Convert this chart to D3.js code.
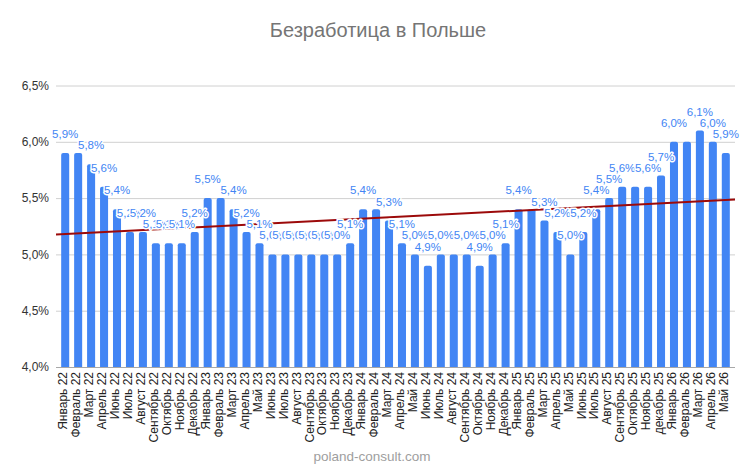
<!DOCTYPE html>
<html>
<head>
<meta charset="utf-8">
<script src="https://cdnjs.cloudflare.com/ajax/libs/d3/7.8.5/d3.min.js"></script>
<style>
    body { margin: 0; background: #fff; }
    svg { display: block; font-family: "Liberation Sans", Arial, sans-serif; }
</style>
</head>
<body>
<script>
var chartTitle = "Безработица в Польше";
var footerText = "poland-consult.com";

var months = [
    "Январь 22", "Февраль 22", "Март 22", "Апрель 22", "Июнь 22", "Июль 22",
    "Август 22", "Сентябрь 22", "Октябрь 22", "Ноябрь 22", "Декабрь 22",
    "Январь 23", "Февраль 23", "Март 23", "Апрель 23", "Май 23", "Июнь 23",
    "Июль 23", "Август 23", "Сентябрь 23", "Октябрь 23", "Ноябрь 23", "Декабрь 23",
    "Январь 24", "Февраль 24", "Март 24", "Апрель 24", "Май 24", "Июнь 24",
    "Июль 24", "Август 24", "Сентябрь 24", "Октябрь 24", "Ноябрь 24", "Декабрь 24",
    "Январь 25", "Февраль 25", "Март 25", "Апрель 25", "Май 25", "Июнь 25",
    "Июль 25", "Август 25", "Сентябрь 25", "Октябрь 25", "Ноябрь 25", "декабрь 25",
    "Январь 26", "Февраль 26", "Март 26", "Апрель 26", "Май 26"
];

var rates = [
    5.9, 5.9, 5.8, 5.6, 5.4, 5.2, 5.2, 5.1, 5.1, 5.1, 5.2,
    5.5, 5.5, 5.4, 5.2, 5.1, 5.0, 5.0, 5.0, 5.0, 5.0, 5.0, 5.1,
    5.4, 5.4, 5.3, 5.1, 5.0, 4.9, 5.0, 5.0, 5.0, 4.9, 5.0, 5.1,
    5.4, 5.4, 5.3, 5.2, 5.0, 5.2, 5.4, 5.5, 5.6, 5.6, 5.6, 5.7,
    6.0, 6.0, 6.1, 6.0, 5.9
];

var yTicks = [4.0, 4.5, 5.0, 5.5, 6.0, 6.5];

function init() {
    var w = 751;
    var h = 465;
    var left = 56, right = 735;
    var top = 85.5, bottom = 367;
    var barColor = "#4285f4";

    var svg = d3.select("body")
        .append("svg")
        .attr("width", w)
        .attr("height", h);

    var xScale = d3.scaleBand()
        .domain(d3.range(months.length))
        .range([left, right])
        .paddingInner(0.38)
        .paddingOuter(0.4);

    var yScale = d3.scaleLinear()
        .domain([yTicks[0], yTicks[yTicks.length - 1]])
        .range([bottom, top]);

    var pct = function (v) {
        return d3.format(".1f")(v).replace(".", ",") + "%";
    };

    // title
    svg.append("text")
        .attr("x", 378)
        .attr("y", 37)
        .attr("text-anchor", "middle")
        .attr("fill", "#757575")
        .style("font-size", "20px")
        .text(chartTitle);

    // gridlines + y labels
    var yAxis = d3.axisLeft(yScale)
        .tickValues(yTicks)
        .tickSize(-(right - left))
        .tickPadding(7)
        .tickFormat(pct);

    var gy = svg.append("g")
        .attr("transform", "translate(" + left + ",0)")
        .call(yAxis);
    gy.select(".domain").remove();
    gy.selectAll(".tick line")
        .attr("stroke", function (d) { return d === yTicks[0] ? "#a8a8a8" : "#d0d0d0"; });
    gy.selectAll(".tick text")
        .attr("fill", "#333")
        .style("font-size", "12px")
        .style("font-family", "'Liberation Sans', Arial, sans-serif");

    // bars with rounded tops
    var bw = xScale.bandwidth();
    var r = 2;
    svg.append("g")
        .selectAll("path")
        .data(rates)
        .enter()
        .append("path")
        .attr("fill", barColor)
        .attr("d", function (d, i) {
            var x0 = xScale(i), x1 = x0 + bw, y0 = yScale(d);
            return "M" + x0 + "," + bottom +
                "V" + (y0 + r) +
                "Q" + x0 + "," + y0 + " " + (x0 + r) + "," + y0 +
                "H" + (x1 - r) +
                "Q" + x1 + "," + y0 + " " + x1 + "," + (y0 + r) +
                "V" + bottom + "Z";
        });

    // x labels, rotated
    svg.append("g")
        .selectAll("text")
        .data(months)
        .enter()
        .append("text")
        .attr("transform", function (d, i) {
            return "translate(" + (xScale(i) + bw / 2 + 1) + "," + (bottom + 5) + ") rotate(-90)";
        })
        .attr("text-anchor", "end")
        .attr("dy", "0.1em")
        .attr("fill", "#222")
        .style("font-size", "12px")
        .text(function (d) { return d; });

    // linear trend (least squares over bar index)
    var n = rates.length;
    var tMean = d3.mean(d3.range(n));
    var yMean = d3.mean(rates);
    var sxy = d3.sum(rates, function (d, i) { return (i - tMean) * (d - yMean); });
    var sxx = d3.sum(d3.range(n), function (i) { return (i - tMean) * (i - tMean); });
    var slope = sxy / sxx;
    var step = xScale.step();
    var c0 = xScale(0) + bw / 2;
    var trendAt = function (px) {
        var t = (px - c0) / step;
        return yMean + slope * (t - tMean);
    };
    svg.append("line")
        .attr("x1", left)
        .attr("x2", right)
        .attr("y1", yScale(trendAt(left)))
        .attr("y2", yScale(trendAt(right)))
        .attr("stroke", "#9c0a0a")
        .attr("stroke-width", 2);

    // data labels - skip repeated value at start of a plateau
    var labels = [];
    rates.forEach(function (d, i) {
        var skip = i > 0 && d === rates[i - 1] && (i === 1 || rates[i - 2] < rates[i - 1]);
        if (!skip) labels.push({ i: i, v: d });
    });
    svg.append("g")
        .selectAll("text")
        .data(labels)
        .enter()
        .append("text")
        .attr("x", function (d) { return xScale(d.i) + bw / 2; })
        .attr("y", function (d) { return yScale(d.v) - 15; })
        .attr("text-anchor", "middle")
        .attr("fill", barColor)
        .attr("stroke", "#fff")
        .attr("stroke-width", 3)
        .attr("stroke-linejoin", "round")
        .style("paint-order", "stroke")
        .style("font-size", "11.5px")
        .text(function (d) { return pct(d.v); });

    // footer
    svg.append("text")
        .attr("x", 372)
        .attr("y", 461)
        .attr("text-anchor", "middle")
        .attr("fill", "#9e9e9e")
        .style("font-size", "13.5px")
        .text(footerText);
}

window.onload = init;
</script>
</body>
</html>
